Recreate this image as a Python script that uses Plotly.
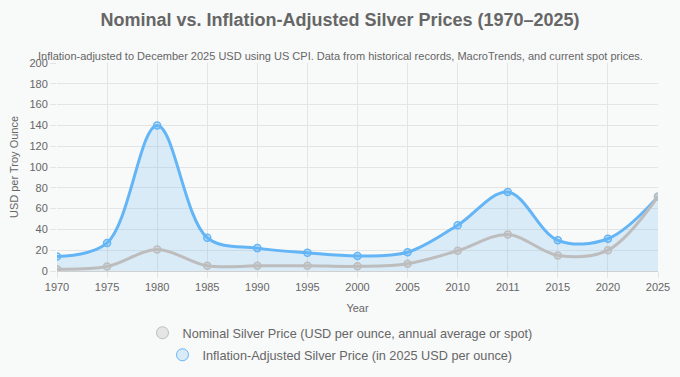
import plotly.graph_objects as go

years = ["1970", "1975", "1980", "1985", "1990", "1995", "2000", "2005", "2010", "2011", "2015", "2020", "2025"]
nominal = [1.8, 4.4, 20.6, 5.0, 5.0, 5.0, 4.5, 7.0, 19.5, 35.0, 15.0, 20.0, 71.5]
adjusted = [14, 27, 140, 32, 22, 17.5, 14.5, 18, 44, 76, 29.5, 31, 71.5]

nom_name = "Nominal Silver Price (USD per ounce, annual average or spot)"
adj_name = "Inflation-Adjusted Silver Price (in 2025 USD per ounce)"

BLUE = "rgb(100,181,246)"
GRAY = "rgb(189,189,189)"
FONT = "Liberation Sans, Arial, sans-serif"

fig = go.Figure()
fig.add_trace(go.Scatter(
    x=years, y=adjusted, mode="lines+markers", name=adj_name,
    line=dict(color=BLUE, width=3, shape="spline", smoothing=1.0),
    marker=dict(size=7, color="rgba(100,181,246,0.3)", line=dict(color=BLUE, width=1.5)),
    fill="tozeroy", fillcolor="rgba(100,181,246,0.2)", showlegend=False, hoverinfo="x+y"))
fig.add_trace(go.Scatter(
    x=years, y=nominal, mode="lines+markers", name=nom_name,
    line=dict(color=GRAY, width=3, shape="spline", smoothing=1.0),
    marker=dict(size=7, color="rgba(189,189,189,0.4)", line=dict(color=GRAY, width=1.5)),
    showlegend=False, hoverinfo="x+y"))

# legend-only traces (circle point style)
fig.add_trace(go.Scatter(
    x=[None], y=[None], mode="markers", name=nom_name, legend="legend",
    marker=dict(size=12, color="rgba(200,200,200,0.4)", line=dict(color=GRAY, width=1))))
fig.add_trace(go.Scatter(
    x=[None], y=[None], mode="markers", name=adj_name, legend="legend2",
    marker=dict(size=12, color="rgba(100,181,246,0.2)", line=dict(color=BLUE, width=1))))

fig.update_layout(
    width=680, height=377,
    paper_bgcolor="#f8f9f9", plot_bgcolor="#f8f9f9",
    margin=dict(l=57, r=22, t=63, b=106, autoexpand=False),
    font=dict(family=FONT, color="#666", size=11),
    title=dict(text="<b>Nominal vs. Inflation-Adjusted Silver Prices (1970–2025)</b>",
               x=0.5, xanchor="center", y=1 - 20 / 377, yanchor="middle",
               font=dict(size=18, color="#666", family=FONT)),
    showlegend=True,
    legend=dict(x=(340 - 57) / 601, xanchor="center", y=-0.298, yanchor="middle", orientation="h",
                font=dict(size=12.7, color="#666"), bgcolor="rgba(0,0,0,0)", itemwidth=30),
    legend2=dict(x=(340 - 57) / 601, xanchor="center", y=-0.404, yanchor="middle", orientation="h",
                 font=dict(size=12.7, color="#666"), bgcolor="rgba(0,0,0,0)", itemwidth=30),
    annotations=[dict(text="Inflation-adjusted to December 2025 USD using US CPI. Data from historical records, MacroTrends, and current spot prices.",
                      x=(340 - 57) / 601, xref="paper", xanchor="center",
                      y=(271 - 56) / 208, yref="paper", yanchor="middle", showarrow=False,
                      font=dict(size=11, color="#666"))],
)

fig.update_xaxes(type="category", range=[0, 12], showgrid=True, gridcolor="#e4e4e4",
                 title=dict(text="Year", font=dict(size=11, color="#666"), standoff=12),
                 tickfont=dict(size=11, color="#666"), ticks="outside", ticklen=6, tickcolor="#e4e4e4",
                 showline=False, zeroline=False, automargin=False)
fig.update_yaxes(range=[0, 200], dtick=20, showgrid=True, gridcolor="#e4e4e4",
                 title=dict(text="USD per Troy Ounce", font=dict(size=11, color="#666"), standoff=8),
                 tickfont=dict(size=11, color="#666"), ticks="outside", ticklen=6, tickcolor="#e4e4e4",
                 zeroline=True, zerolinecolor="#d0d0d0", zerolinewidth=1, showline=False, automargin=False)

fig.write_html("out.html", config={"displayModeBar": False},
               post_script="document.body.style.margin='0';document.body.style.background='#f8f9f9';")
